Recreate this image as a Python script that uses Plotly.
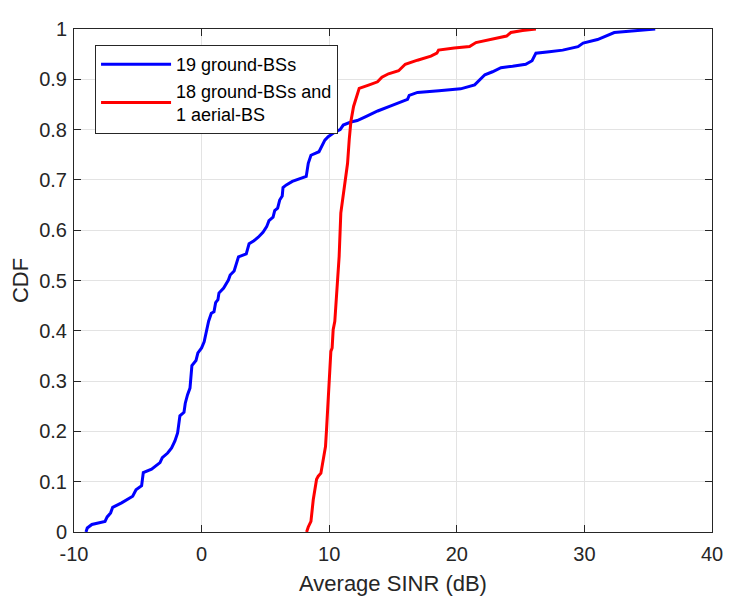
import plotly.graph_objects as go

# ---- data ----
blue_x = [-9.06, -8.96, -8.6, -7.57, -7.4, -7.13, -6.97, -6.27, -5.4, -5.14,
          -4.7, -4.57, -3.92, -3.26, -3.08, -2.66, -2.35, -2.09, -1.88, -1.70,
          -1.38, -1.28, -1.1, -0.91, -0.76, -0.44, -0.29, 0.0, 0.2, 0.37,
          0.55, 0.76, 0.97, 1.1, 1.28, 1.36, 1.73, 2.1, 2.24, 2.55,
          2.73, 2.89, 3.5, 3.72, 4.1, 4.44, 4.81, 5.1, 5.28, 5.6,
          5.73, 5.96, 6.12, 6.32, 6.38, 6.64, 7.11, 8.2, 8.36, 8.57,
          9.2, 9.5, 9.66, 9.92, 10.45, 10.86, 11.1, 11.7, 12.2, 12.87,
          13.8, 14.83, 15.5, 16.14, 16.27, 16.92, 18.6, 20.3, 21.4, 21.76,
          22.2, 22.8, 23.46, 24.37, 25.4, 25.9, 26.2, 27.25, 28.3, 29.5,
          29.9, 31.03, 31.7, 32.34, 33.26, 34.3, 35.55]
blue_y = [0, 0.008, 0.015, 0.021, 0.03, 0.038, 0.049, 0.058, 0.071, 0.084,
          0.092, 0.118, 0.125, 0.138, 0.148, 0.157, 0.167, 0.181, 0.197, 0.231,
          0.238, 0.256, 0.273, 0.286, 0.331, 0.341, 0.356, 0.366, 0.378, 0.401,
          0.419, 0.435, 0.438, 0.456, 0.462, 0.475, 0.485, 0.501, 0.511, 0.519,
          0.534, 0.547, 0.553, 0.573, 0.579, 0.586, 0.596, 0.607, 0.619, 0.626,
          0.639, 0.644, 0.66, 0.668, 0.685, 0.69, 0.697, 0.707, 0.733, 0.749,
          0.756, 0.770, 0.779, 0.786, 0.795, 0.8, 0.809, 0.815, 0.818, 0.826,
          0.837, 0.847, 0.854, 0.86, 0.868, 0.874, 0.877, 0.881, 0.889, 0.899,
          0.909, 0.915, 0.923, 0.926, 0.93, 0.937, 0.952, 0.955, 0.958, 0.965,
          0.972, 0.979, 0.987, 0.993, 0.995, 0.997, 1.0]

red_x = [8.23, 8.36, 8.57, 8.75, 9.01, 9.14, 9.35, 9.53, 9.71, 9.79,
         9.87, 9.92, 10.0, 10.13, 10.23, 10.31, 10.44, 10.57, 10.7, 10.78,
         10.91, 11.12, 11.3, 11.44, 11.57, 11.7, 11.91, 12.09, 12.35, 13.14,
         13.79, 14.13, 14.65, 15.44, 15.96, 16.92, 17.97, 18.44, 18.57, 19.8,
         21.0, 21.5, 22.8, 23.9, 24.24, 25.15, 26.2]
red_y = [0, 0.01, 0.021, 0.064, 0.105, 0.111, 0.117, 0.144, 0.17, 0.203,
         0.236, 0.27, 0.309, 0.359, 0.366, 0.402, 0.419, 0.468, 0.501, 0.548,
         0.634, 0.677, 0.71, 0.733, 0.78, 0.816, 0.846, 0.862, 0.882, 0.889,
         0.895, 0.904, 0.911, 0.917, 0.93, 0.938, 0.946, 0.952, 0.958, 0.962,
         0.965, 0.973, 0.98, 0.986, 0.993, 0.997, 1.0]

series_names = ["19 ground-BSs", "18 ground-BSs and<br>1 aerial-BS"]
x_tickvals = [-10, 0, 10, 20, 30, 40]
x_ticktext = ["-10", "0", "10", "20", "30", "40"]
y_tickvals = [0, 0.1, 0.2, 0.3, 0.4, 0.5, 0.6, 0.7, 0.8, 0.9, 1]
y_ticktext = ["0", "0.1", "0.2", "0.3", "0.4", "0.5", "0.6", "0.7", "0.8", "0.9", "1"]
x_title = "Average SINR (dB)"
y_title = "CDF"

FONT = "Liberation Sans, Arial, Helvetica, sans-serif"
AX = "#262626"

fig = go.Figure()
fig.add_trace(go.Scatter(x=blue_x, y=blue_y, mode="lines", name=series_names[0],
                         line=dict(color="#0000ff", width=3)))
fig.add_trace(go.Scatter(x=red_x, y=red_y, mode="lines", name=series_names[1],
                         line=dict(color="#ff0000", width=3)))

axis_common = dict(
    showline=True, linecolor=AX, linewidth=1, mirror="ticks",
    ticks="inside", ticklen=7, tickcolor=AX, tickwidth=1,
    showgrid=True, gridcolor="#e3e3e3", gridwidth=1,
    zeroline=False,
    tickfont=dict(family=FONT, size=20, color=AX),
)

fig.update_xaxes(range=[-10, 40], tickvals=x_tickvals, ticktext=x_ticktext,
                 title=dict(text=x_title, font=dict(family=FONT, size=22, color=AX), standoff=11),
                 ticklabelstandoff=4, **axis_common)
fig.update_yaxes(range=[0, 1], tickvals=y_tickvals, ticktext=y_ticktext,
                 title=dict(text=y_title, font=dict(family=FONT, size=22, color=AX), standoff=8),
                 ticklabelstandoff=2, **axis_common)

# page body has an 8px default margin: size figure so the plot box lands where the reference has it
fig.update_layout(
    width=731, height=590,
    margin=dict(l=66, r=26.5, t=21, b=66, autoexpand=False),
    paper_bgcolor="white", plot_bgcolor="white",
    font=dict(family=FONT, color=AX),
    legend=dict(x=0.033, y=0.968, xanchor="left", yanchor="top",
                bgcolor="white", bordercolor=AX, borderwidth=1,
                font=dict(family=FONT, size=18, color="black"),
                itemwidth=70, tracegroupgap=0),
    showlegend=True,
)

fig.write_html("out.html")
